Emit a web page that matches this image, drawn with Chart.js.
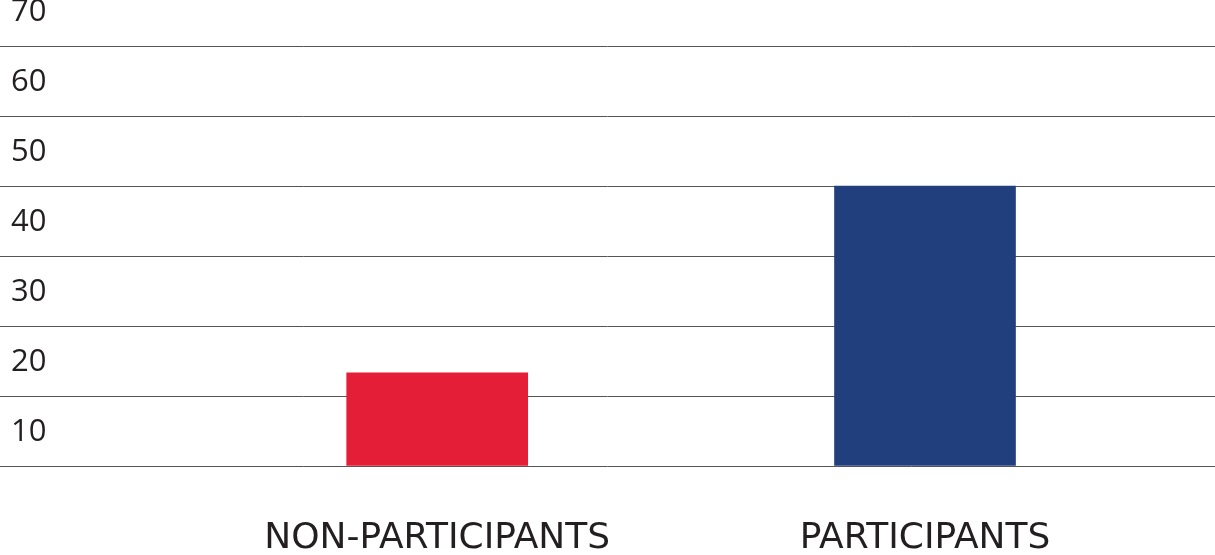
<!DOCTYPE html>
<html lang="en">
<head>
    <meta charset="UTF-8">
    <title>Participants vs Non-participants</title>
    <script src="https://cdn.jsdelivr.net/npm/chart.js@4.4.1/dist/chart.umd.min.js"></script>
    <style>
        html, body {
            margin: 0;
            padding: 0;
            background: #ffffff;
            overflow: hidden;
        }
        /* the 70 gridline sits just above the visible picture */
        .wrap {
            position: relative;
            width: 1215px;
            height: 579px;
            margin-top: -24px;
        }
    </style>
</head>
<body>

<div class="wrap">
    <canvas id="barChart"></canvas>
</div>

<script>
    const categories = ['NON-PARTICIPANTS', 'PARTICIPANTS'];
    const values = [13.3, 40];
    const barColors = ['#e31e36', '#223f7d'];
    const yTicks = [0, 10, 20, 30, 40, 50, 60, 70];

    // no room taken by the axes, the plot fills the canvas
    function noPadding(axis) {
        axis.paddingTop = 0;
        axis.paddingBottom = 0;
        axis.paddingLeft = 0;
        axis.paddingRight = 0;
    }

    const ctx = document.getElementById('barChart').getContext('2d');
    const chart = new Chart(ctx, {
        type: 'bar',
        data: {
            datasets: [{
                data: categories.map((c, i) => ({ x: i, y: values[i] })),
                backgroundColor: barColors,
                borderWidth: 0,
                barThickness: 181,
            }],
        },
        options: {
            responsive: true,
            maintainAspectRatio: false,
            animation: false,
            layout: { padding: 0 },
            plugins: {
                legend: { display: false },
                tooltip: { enabled: false },
            },
            scales: {
                x: {
                    type: 'linear',
                    offset: false,
                    bounds: 'data',
                    min: -0.8963,
                    max: 1.5945,
                    afterBuildTicks: axis => {
                        axis.ticks = categories.map((c, i) => ({ value: i }));
                    },
                    afterFit: axis => {
                        axis.height = 89;
                        noPadding(axis);
                    },
                    grid: { display: false, drawTicks: false, offset: false },
                    border: { display: false },
                    ticks: {
                        callback: value => categories[value],
                        color: '#231f20',
                        padding: 51,
                        font: { family: '"DejaVu Sans", sans-serif', size: 36 },
                        maxRotation: 0,
                        autoSkip: false,
                    },
                },
                y: {
                    min: 0,
                    max: 70,
                    afterBuildTicks: axis => {
                        axis.ticks = yTicks.map(v => ({ value: v }));
                    },
                    afterFit: axis => {
                        axis.width = 0;
                        noPadding(axis);
                    },
                    grid: {
                        color: '#555555',
                        lineWidth: 1,
                        drawTicks: false,
                    },
                    border: { display: false },
                    ticks: {
                        mirror: true,
                        padding: 11,
                        labelOffset: 36,
                        color: '#231f20',
                        font: { family: '"Open Sans", sans-serif', size: 31 },
                        callback: value => value === 0 ? '' : value,
                    },
                },
            },
        },
    });
</script>
</body>
</html>
